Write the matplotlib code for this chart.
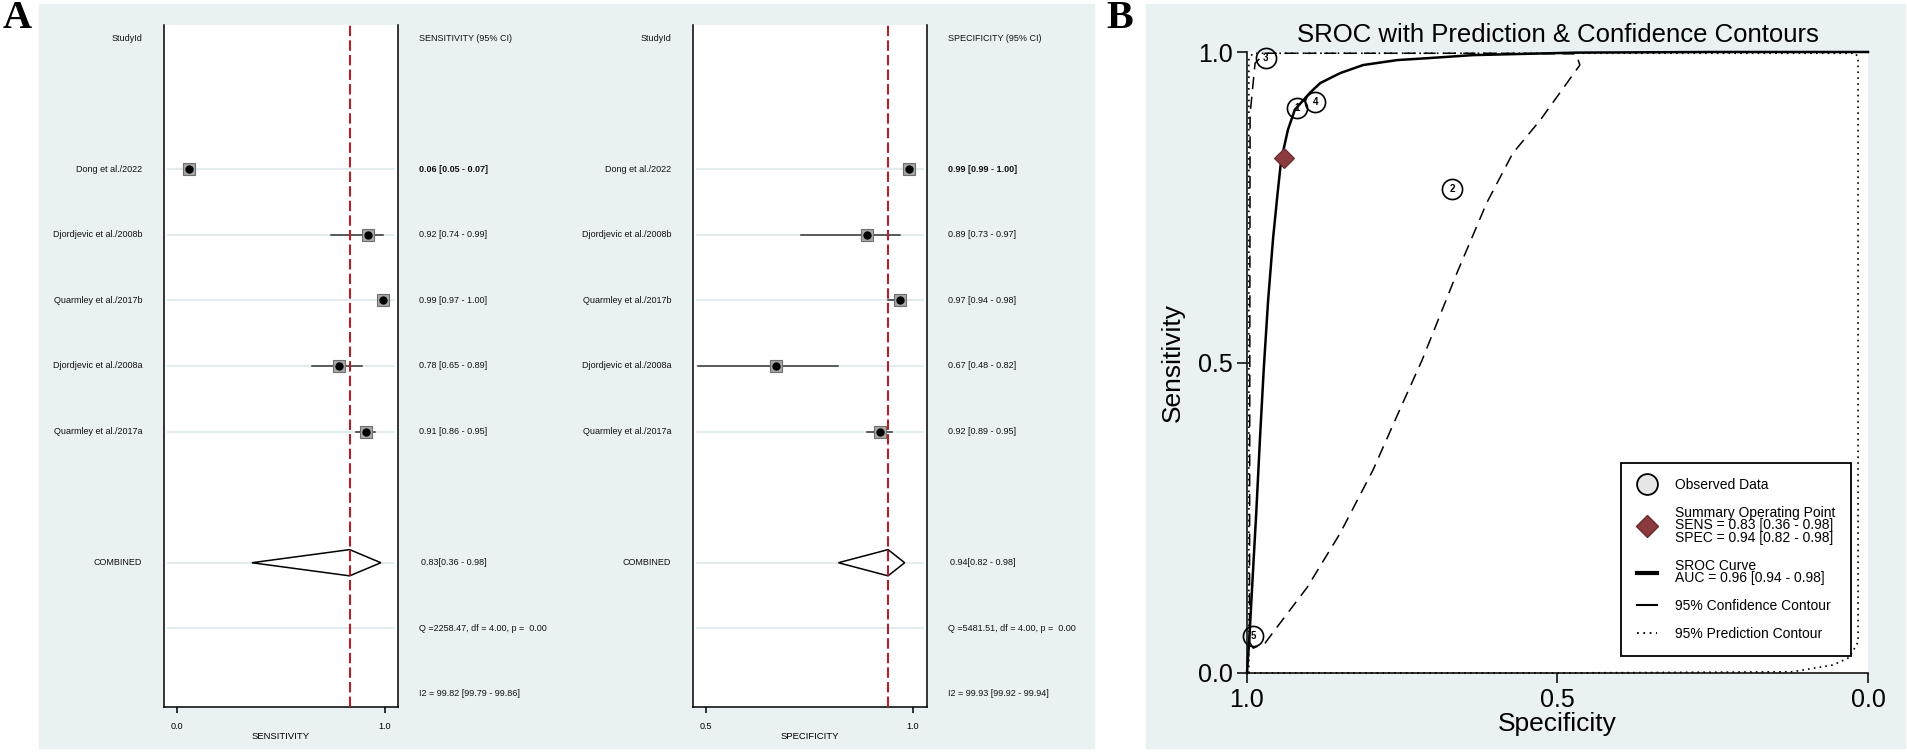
"""Forest plots of sensitivity / specificity (A) and SROC curve with
confidence and prediction contours (B)."""
import matplotlib as mpl
import matplotlib.pyplot as plt
from matplotlib.lines import Line2D
from matplotlib.patches import Rectangle

mpl.rcParams.update({
    "font.family": ["Liberation Sans", "DejaVu Sans"],
    "axes.linewidth": 1.1,
})

W, H = 1908, 752

# ---- data -------------------------------------------------------------
studies = ["Dong et al./2022", "Djordjevic et al./2008b",
           "Quarmley et al./2017b", "Djordjevic et al./2008a",
           "Quarmley et al./2017a"]
sens = [0.06, 0.92, 0.99, 0.78, 0.91]
sens_lo = [0.05, 0.74, 0.97, 0.65, 0.86]
sens_hi = [0.07, 0.99, 1.00, 0.89, 0.95]
spec = [0.99, 0.89, 0.97, 0.67, 0.92]
spec_lo = [0.99, 0.73, 0.94, 0.48, 0.89]
spec_hi = [1.00, 0.97, 0.98, 0.82, 0.95]
pooled_sens = (0.83, 0.36, 0.98)
pooled_spec = (0.94, 0.82, 0.98)
het_sens = ("Q =2258.47, df = 4.00, p =  0.00", "I2 = 99.82 [99.79 - 99.86]")
het_spec = ("Q =5481.51, df = 4.00, p =  0.00", "I2 = 99.93 [99.92 - 99.94]")
sroc_ids = [5, 4, 3, 2, 1]

# SROC curve and contours (specificity, sensitivity)
sroc_spec = [1.0, 0.996, 0.99, 0.985, 0.979, 0.973, 0.966, 0.958, 0.951,
             0.945, 0.934, 0.923, 0.899, 0.882, 0.85, 0.813, 0.758, 0.71,
             0.636, 0.47, 0.25, 0.0]
sroc_sens = [0.0, 0.06, 0.17, 0.26, 0.38, 0.49, 0.6, 0.7, 0.77, 0.826,
             0.875, 0.907, 0.934, 0.95, 0.966, 0.979, 0.987, 0.99, 0.995,
             0.999, 1.0, 1.0]
conf_spec = [0.996, 0.99, 0.971, 0.947, 0.903, 0.85, 0.797, 0.754, 0.718,
             0.662, 0.614, 0.572, 0.528, 0.464, 0.47, 0.6, 0.8, 0.971,
             0.987, 0.995, 0.996]
conf_sens = [0.05, 0.04, 0.048, 0.08, 0.138, 0.225, 0.327, 0.424, 0.504,
             0.644, 0.757, 0.837, 0.89, 0.979, 0.997, 0.998, 0.998, 0.998,
             0.982, 0.9, 0.05]
pred_spec = [0.997, 0.997, 0.99, 0.5, 0.02, 0.016, 0.016, 0.03, 0.056,
             0.121, 0.5, 0.997]
pred_sens = [0.0, 0.99, 0.998, 0.998, 0.998, 0.99, 0.05, 0.025, 0.013,
             0.002, 0.0, 0.0]

BG = "#EAF1F3"
RED = "#B3202A"
MAROON = "#8B3A3E"


def px(x0, y0, x1, y1):
    return [x0 / W, 1 - y1 / H, (x1 - x0) / W, (y1 - y0) / H]


fig = plt.figure(figsize=(W / 100, H / 100), dpi=100)
fig.add_artist(Rectangle((39 / W, 1 - 748 / H), (1094 - 39) / W, 744 / H,
                         transform=fig.transFigure, color=BG, zorder=0))
fig.add_artist(Rectangle((1146 / W, 1 - 748 / H), (1905 - 1146) / W,
                         744 / H, transform=fig.transFigure, color=BG,
                         zorder=0))
fig.text(3 / W, 1 - 19 / H, "A", family=["Liberation Serif", "DejaVu Serif"],
         fontsize=29, fontweight="bold", va="center", ha="left")
fig.text(1106 / W, 1 - 19 / H, "B", family=["Liberation Serif", "DejaVu Serif"],
         fontsize=29, fontweight="bold", va="center", ha="left")

rows = [2, 3, 4, 5, 6]
row_comb, row_q, row_i2 = 8, 9, 10


def forest(ax, est, lo, hi, pooled, het, xlim, ticks, name):
    ax.set_facecolor("white")
    ax.set_xlim(*xlim)
    ax.set_ylim(10.2, -0.2)
    ax.spines["top"].set_visible(False)
    ax.set_yticks([])
    ax.set_xticks(ticks)
    ax.set_xticklabels([f"{t:.1f}" for t in ticks], fontsize=6.5)
    ax.tick_params(axis="x", length=4.5, width=1.1, pad=6)
    ax.set_xlabel(name, fontsize=6.8, labelpad=1)
    for r in rows + [row_comb, row_q]:
        ax.axhline(r, xmin=0.015, xmax=0.985, color="#DDE7EA", lw=1.2,
                   zorder=1)
    ax.axvline(pooled[0], color=RED, lw=1.5, ls=(0, (5, 2)), zorder=4)
    for r, e, l, h in zip(rows, est, lo, hi):
        ax.plot([l, h], [r, r], color="#333333", lw=1.1, zorder=2)
        ax.plot(e, r, marker="s", ms=8.5, mfc="#A8A8A8", mec="#6F6F6F",
                mew=0.8, zorder=3)
        ax.plot(e, r, marker="o", ms=5, color="black", zorder=3)
    e, l, h = pooled
    ax.fill([l, e, h, e, l], [row_comb, row_comb - 0.2, row_comb,
                              row_comb + 0.2, row_comb],
            facecolor="white", edgecolor="black", lw=1.1, zorder=3)

    tr = ax.get_yaxis_transform()
    kw = dict(transform=tr, fontsize=6.5, va="center", clip_on=False,
              color="#111111")
    ax.text(-0.094, 0, "StudyId", ha="right", **kw)
    ax.text(1.09, 0, f"{name} (95% CI)", ha="left", **kw)
    for i, (r, s) in enumerate(zip(rows, studies)):
        ax.text(-0.094, r, s, ha="right", **kw)
        ax.text(1.09, r, f"{est[i]:.2f} [{lo[i]:.2f} - {hi[i]:.2f}]",
                ha="left", fontweight="bold" if i == 0 else "normal", **kw)
    ax.text(-0.094, row_comb, "COMBINED", ha="right", **kw)
    ax.text(1.1, row_comb, f"{e:.2f}[{l:.2f} - {h:.2f}]", ha="left", **kw)
    ax.text(1.09, row_q, het[0], ha="left", **kw)
    ax.text(1.09, row_i2, het[1], ha="left", **kw)


ax_se = fig.add_axes(px(164, 25, 398, 707))
forest(ax_se, sens, sens_lo, sens_hi, pooled_sens, het_sens,
       (-0.0625, 1.0625), [0.0, 1.0], "SENSITIVITY")
ax_sp = fig.add_axes(px(693, 25, 927, 707))
forest(ax_sp, spec, spec_lo, spec_hi, pooled_spec, het_spec,
       (0.469, 1.034), [0.5, 1.0], "SPECIFICITY")

# ---- panel B: SROC ----------------------------------------------------
ax = fig.add_axes(px(1247, 52, 1868, 673))
ax.set_facecolor("white")
ax.set_xlim(1.0, 0.0)
ax.set_ylim(0.0, 1.0)
ax.spines["top"].set_visible(False)
ax.spines["right"].set_visible(False)
ax.set_xticks([1.0, 0.5, 0.0])
ax.set_yticks([0.0, 0.5, 1.0])
ax.set_xticklabels(["1.0", "0.5", "0.0"])
ax.set_yticklabels(["0.0", "0.5", "1.0"])
ax.tick_params(labelsize=18, length=7, width=1.1)
ax.set_xlabel("Specificity", fontsize=19, labelpad=0)
ax.set_ylabel("Sensitivity", fontsize=19, labelpad=9)
ax.set_title("SROC with Prediction & Confidence Contours", fontsize=18.5,
             pad=7)

ax.plot(pred_spec, pred_sens, color="black", lw=1.2, ls=(0, (1, 2.5)),
        clip_on=False, zorder=2)
ax.plot(conf_spec, conf_sens, color="black", lw=1.1, ls=(0, (8, 5)),
        clip_on=False, zorder=2)
ax.plot(sroc_spec, sroc_sens, color="black", lw=1.8, clip_on=False,
        zorder=3)
for sp, se, k in zip(spec, sens, sroc_ids):
    ax.plot(sp, se, marker="o", ms=14.5, mfc="none", mec="black", mew=1.2,
            zorder=4, clip_on=False)
    ax.text(sp, se, str(k), fontsize=7, fontweight="bold", ha="center",
            va="center", zorder=5)
ax.plot(pooled_spec[0], pooled_sens[0], marker="D", ms=10.5, mfc=MAROON,
        mec="#6A2A2D", mew=0.8, zorder=6)

handles = [
    Line2D([], [], ls="none", marker="o", ms=15, mfc="#E6E6E6", mec="black",
           mew=1.3),
    Line2D([], [], ls="none", marker="D", ms=11, mfc=MAROON, mec="#6A2A2D"),
    Line2D([], [], color="black", lw=3),
    Line2D([], [], color="black", lw=1.5),
    Line2D([], [], color="black", lw=1.3, ls=(0, (1, 2.5))),
]
labels = [
    "Observed Data",
    "Summary Operating Point\nSENS = 0.83 [0.36 - 0.98]\n"
    "SPEC = 0.94 [0.82 - 0.98]",
    "SROC Curve\nAUC = 0.96 [0.94 - 0.98]",
    "95% Confidence Contour",
    "95% Prediction Contour",
]
leg = ax.legend(handles, labels, loc="lower right",
                bbox_to_anchor=(0.984, 0.016), fontsize=10, frameon=True,
                fancybox=False, edgecolor="black", framealpha=1,
                labelspacing=1.0, handlelength=1.5, handletextpad=1.3,
                borderpad=1.1)
leg.get_frame().set_linewidth(1.3)
for t in leg.get_texts():
    t.set_linespacing(0.85)
leg.set_zorder(10)

fig.savefig("out.png", dpi=100)
